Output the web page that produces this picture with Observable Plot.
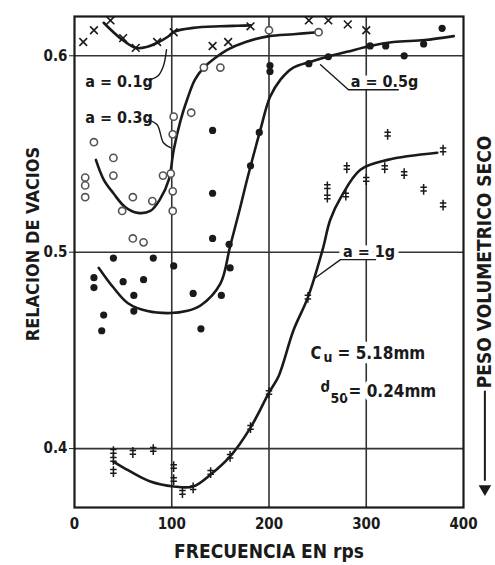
<!DOCTYPE html>
<html><head><meta charset="utf-8">
<script src="https://cdn.jsdelivr.net/npm/d3@7"></script>
<script src="https://cdn.jsdelivr.net/npm/@observablehq/plot@0.6"></script>
<style>
body{margin:0;background:#fff;}
</style></head><body><div id="chart"></div>
<script>
// ---- axes / ticks ----
const xTicks = [0, 100, 200, 300, 400];
const yTicks = [0.4, 0.5, 0.6];
const xGrid = [100, 200, 300];
const yGrid = [0.4, 0.5, 0.6];

// ---- fitted curves ----
const c01x = [30, 47, 63, 75, 85, 96, 102, 122, 150, 168, 181];
const c01y = [0.6168, 0.609, 0.604, 0.6046, 0.6066, 0.6097, 0.6122, 0.6142, 0.615, 0.6153, 0.6155];

const c03x = [22, 30, 40, 52, 65, 78, 88, 97, 102, 109, 116, 124, 133, 145, 157, 176, 200, 225, 250];
const c03y = [0.547, 0.537, 0.530, 0.523, 0.520, 0.521, 0.527, 0.537, 0.552, 0.567, 0.578, 0.588, 0.594, 0.599, 0.603, 0.607, 0.610, 0.611, 0.612];

const c05x = [25, 40, 55, 75, 99, 115, 130, 150, 160, 170, 178, 191, 201, 212, 225, 243, 260, 280, 304, 328, 360, 390];
const c05y = [0.492, 0.482, 0.474, 0.470, 0.469, 0.470, 0.473, 0.484, 0.503, 0.522, 0.538, 0.562, 0.579, 0.588, 0.594, 0.597, 0.5995, 0.602, 0.605, 0.607, 0.608, 0.610];

const c1x = [40, 55, 78, 102, 122, 140, 160, 181, 200, 210, 225, 240, 255, 263, 274, 294, 322, 373];
const c1y = [0.3934, 0.389, 0.3832, 0.3807, 0.3807, 0.3868, 0.396, 0.4107, 0.4285, 0.437, 0.46, 0.477, 0.501, 0.5165, 0.528, 0.542, 0.547, 0.5506];

// ---- measured points ----
// a = 0.1g  (x)
const p01x = [9, 20, 37, 50, 63, 85, 102, 142, 158, 181, 241, 261, 281, 300];
const p01y = [0.607, 0.613, 0.618, 0.609, 0.604, 0.607, 0.612, 0.605, 0.607, 0.615, 0.618, 0.618, 0.616, 0.613];
// a = 0.3g  (open circles)
const p03x = [11, 11, 11, 20, 40, 40, 49, 60, 80, 91, 99, 101, 101, 101, 102, 120, 133, 150, 60, 71, 200, 251];
const p03y = [0.538, 0.534, 0.528, 0.556, 0.548, 0.539, 0.521, 0.528, 0.526, 0.539, 0.540, 0.531, 0.521, 0.560, 0.569, 0.571, 0.594, 0.594, 0.507, 0.505, 0.613, 0.612];
// a = 0.5g  (filled circles)
const p05x = [20, 20, 28, 30, 40, 50, 61, 61, 71, 81, 102, 122, 130, 142, 142, 142, 151, 160, 159, 181, 190, 201, 201, 241, 261, 304, 320, 339, 359, 378];
const p05y = [0.487, 0.482, 0.460, 0.468, 0.497, 0.485, 0.478, 0.470, 0.486, 0.497, 0.493, 0.479, 0.461, 0.562, 0.530, 0.507, 0.478, 0.492, 0.504, 0.544, 0.561, 0.595, 0.592, 0.596, 0.5995, 0.605, 0.605, 0.600, 0.606, 0.614];
// a = 1g  (double-dagger crosses)
const p1x = [40, 40, 40, 60, 81, 102, 102, 111, 122, 140, 160, 181, 200, 240, 260, 260, 279, 280, 300, 319, 322, 339, 359, 379, 379];
const p1y = [0.3985, 0.3944, 0.3883, 0.398, 0.3995, 0.3908, 0.3842, 0.3776, 0.380, 0.3878, 0.396, 0.4107, 0.4285, 0.477, 0.5333, 0.528, 0.529, 0.543, 0.537, 0.543, 0.560, 0.540, 0.532, 0.524, 0.552];

// ---- annotation labels and leader lines ----
const annLabels = ["a = 0.1g", "a = 0.3g", "a = 0.5g", "a = 1g"];
const annX = [11, 11, 284, 276];
const annY = [0.5868, 0.5684, 0.5868, 0.5003];

const lead01x = [78, 86, 91.5, 94.6], lead01y = [0.5878, 0.5898, 0.5949, 0.6031];
const lead03x = [76, 85, 91.5, 98.7], lead03y = [0.5674, 0.5649, 0.5557, 0.5532];
const lead05x = [253, 281.7, 333], lead05y = [0.5954, 0.5827, 0.5827];
const lead1x = [247.8, 273.5, 309.5], lead1y = [0.487, 0.4962, 0.4962];

const cuPos = [242.7, 0.4483];
const d50Pos = [253, 0.429];
const arrowX = [422, 422], arrowY = [0.429, 0.384];
const arrowTip = [422, 0.3795];

const FONT = '"DejaVu Sans Condensed", "Liberation Sans Narrow", sans-serif';
const INK = "#1a1a1a";

const dagger = {
  draw(ctx, size) {
    const r = Math.sqrt(size / Math.PI);
    ctx.moveTo(0, -r * 1.5); ctx.lineTo(0, r * 1.5);
    ctx.moveTo(-r * 0.9, -r * 0.55); ctx.lineTo(r * 0.9, -r * 0.55);
    ctx.moveTo(-r * 0.9, r * 0.45); ctx.lineTo(r * 0.9, r * 0.45);
  }
};

const line = (xs, ys, opts = {}) => Plot.line({length: xs.length}, {x: xs, y: ys, stroke: INK, strokeWidth: 2.6, curve: "catmull-rom", ...opts});
const halo = {fill: INK, stroke: "white", strokeWidth: 9, paintOrder: "stroke"};

const chart = Plot.plot({
  width: 495, height: 565,
  marginLeft: 74, marginRight: 32, marginTop: 16, marginBottom: 58,
  style: {fontFamily: FONT, fontWeight: "bold", fontSize: "15px", background: "#fff", color: INK},
  x: {domain: [0, 400]},
  y: {domain: [0.37, 0.62]},
  marks: [
    Plot.gridX(xGrid, {stroke: "#333", strokeOpacity: 1, strokeWidth: 1.6}),
    Plot.gridY(yGrid, {stroke: "#333", strokeOpacity: 1, strokeWidth: 1.6}),
    Plot.frame({stroke: INK, strokeWidth: 2.2}),
    Plot.axisX({ticks: xTicks, tickSize: 0, tickPadding: 11, fontSize: 15, label: null}),
    Plot.axisY({ticks: yTicks, tickFormat: d => d.toFixed(1), tickSize: 5, tickPadding: 2, fontSize: 15, label: null}),
    Plot.text(["FRECUENCIA EN rps"], {frameAnchor: "bottom", lineAnchor: "middle", textAnchor: "middle", dy: 44, fontSize: 19, fill: INK}),
    Plot.text(["RELACION DE VACIOS"], {frameAnchor: "left", lineAnchor: "middle", textAnchor: "middle", rotate: -90, dx: -41, dy: -18, fontSize: 18, fill: INK}),
    Plot.text(["PESO VOLUMETRICO SECO"], {frameAnchor: "right", lineAnchor: "middle", textAnchor: "middle", rotate: -90, dx: 21, dy: 0, fontSize: 19, fill: INK}),
    Plot.line({length: 2}, {x: arrowX, y: arrowY, stroke: INK, strokeWidth: 2}),
    Plot.dot([arrowTip], {x: d => d[0], y: d => d[1], symbol: "triangle2", r: 6, rotate: 180, fill: INK}),
    // curves
    line(c01x, c01y),
    line(c03x, c03y),
    line(c05x, c05y),
    line(c1x, c1y),
    // points
    Plot.dot({length: p03x.length}, {x: p03x, y: p03y, r: 3.6, stroke: "#555", strokeWidth: 1.6, fill: "white"}),
    Plot.dot({length: p05x.length}, {x: p05x, y: p05y, r: 3.6, fill: INK}),
    Plot.dot({length: p01x.length}, {x: p01x, y: p01y, symbol: "times", r: 3.6, stroke: INK, strokeWidth: 1.6, fill: "none"}),
    Plot.dot({length: p1x.length}, {x: p1x, y: p1y, symbol: dagger, r: 3.6, stroke: INK, strokeWidth: 1.5, fill: "none"}),
    // labels (white halo breaks the grid lines behind them)
    Plot.text(annLabels, {x: annX, y: annY, text: d => d, textAnchor: "start", lineAnchor: "middle", fontSize: 16, ...halo}),
    Plot.text(["C"], {x: [cuPos[0]], y: [cuPos[1]], textAnchor: "start", lineAnchor: "middle", fontSize: 17, ...halo}),
    Plot.text(["u"], {x: [cuPos[0]], y: [cuPos[1]], dx: 13, dy: 4, textAnchor: "start", lineAnchor: "middle", fontSize: 14, ...halo}),
    Plot.text(["= 5.18mm"], {x: [cuPos[0]], y: [cuPos[1]], dx: 27, textAnchor: "start", lineAnchor: "middle", fontSize: 17, ...halo}),
    Plot.text(["d"], {x: [d50Pos[0]], y: [d50Pos[1]], dy: -4, textAnchor: "start", lineAnchor: "middle", fontSize: 15, ...halo}),
    Plot.text(["50"], {x: [d50Pos[0]], y: [d50Pos[1]], dx: 10, dy: 7, textAnchor: "start", lineAnchor: "middle", fontSize: 14, ...halo}),
    Plot.text(["= 0.24mm"], {x: [d50Pos[0]], y: [d50Pos[1]], dx: 28, textAnchor: "start", lineAnchor: "middle", fontSize: 17, ...halo}),
    // leaders (drawn after labels so halos do not cut them)
    Plot.line({length: 4}, {x: lead01x, y: lead01y, stroke: INK, strokeWidth: 1.4, curve: "catmull-rom"}),
    Plot.line({length: 4}, {x: lead03x, y: lead03y, stroke: INK, strokeWidth: 1.4, curve: "catmull-rom"}),
    Plot.line({length: 3}, {x: lead05x, y: lead05y, stroke: INK, strokeWidth: 1.4}),
    Plot.line({length: 3}, {x: lead1x, y: lead1y, stroke: INK, strokeWidth: 1.4})
  ]
});
document.getElementById("chart").appendChild(chart);
</script></body></html>
